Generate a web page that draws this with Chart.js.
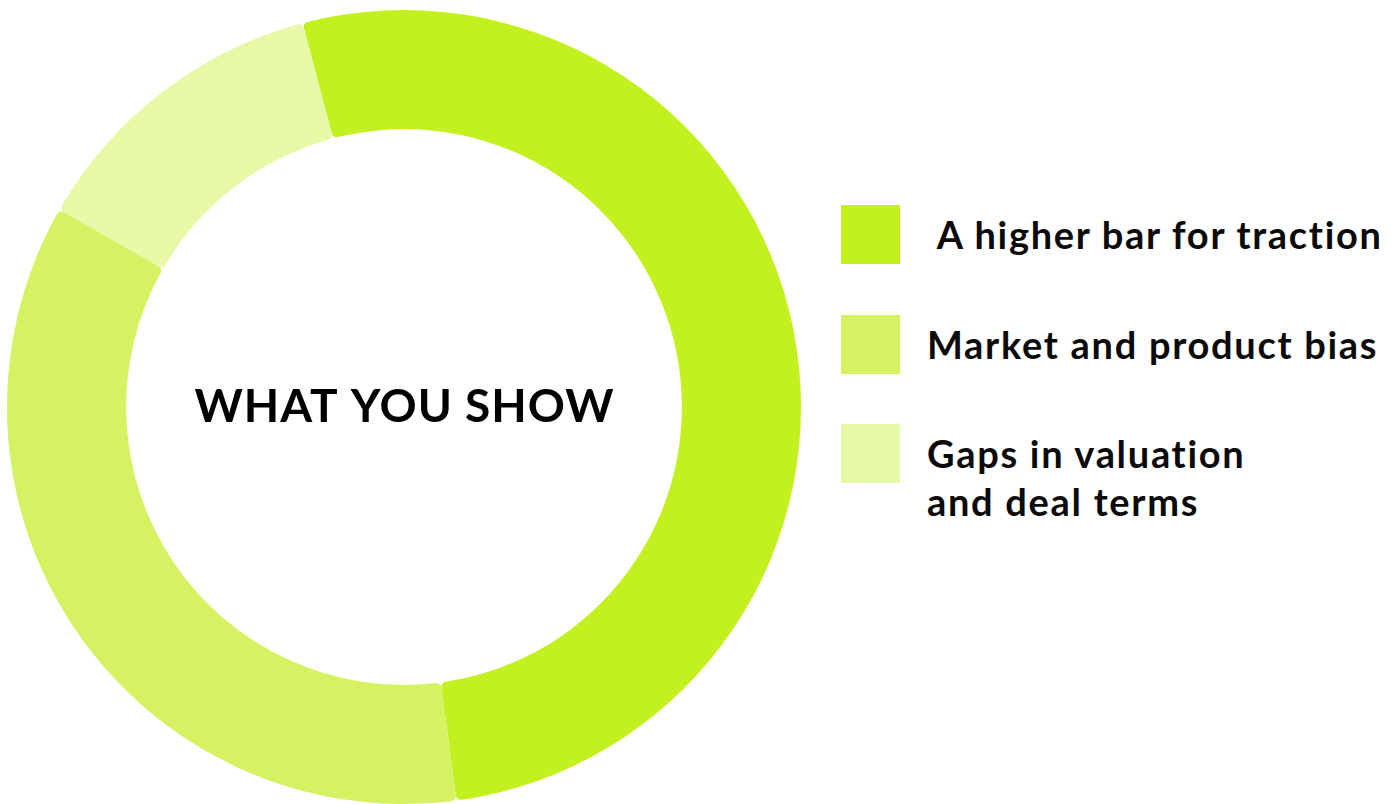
<!DOCTYPE html>
<html>
<head>
<meta charset="utf-8">
<script src="https://cdn.jsdelivr.net/npm/chart.js@4.4.0/dist/chart.umd.min.js"></script>
<style>
  html, body { margin: 0; padding: 0; background: #fff; }
  body { width: 1391px; height: 804px; position: relative; overflow: hidden; font-family: Lato, "Open Sans", sans-serif; }
  #wrap { position: absolute; left: 0; top: 0; width: 808px; height: 814px; }
  #legend { position: absolute; left: 841px; top: 205px; margin: 0; padding: 0; list-style: none; }
  #legend li { position: relative; height: 109.5px; }
  #legend .box { position: absolute; left: 0; top: 0; width: 59px; height: 59px; }
  #legend .txt { position: absolute; left: 86px; top: 5px; font-weight: 700; font-size: 38px; line-height: 48px; letter-spacing: 1.7px; color: #0a0a0a; white-space: pre; }
</style>
</head>
<body>
<div id="wrap"><canvas id="chart"></canvas></div>
<ul id="legend"></ul>
<script>
const labels = [' A higher bar for traction', 'Market and product bias', 'Gaps in valuation\nand deal terms'];
const values = [52, 35.4, 12.6];
const colors = ['#c3f01f', '#d4f261', '#e5f9a7'];
const centerText = 'WHAT YOU SHOW';

const centerLabel = {
  id: 'centerLabel',
  afterDraw(chart) {
    const { ctx } = chart;
    const arc = chart.getDatasetMeta(0).data[0];
    ctx.save();
    ctx.font = '700 46px Lato, sans-serif';
    ctx.letterSpacing = '1px';
    ctx.fillStyle = '#000';
    ctx.textAlign = 'center';
    ctx.textBaseline = 'middle';
    ctx.fillText(centerText, arc.x + 0.5, arc.y);
    ctx.restore();
  }
};

const chart = new Chart(document.getElementById('chart'), {
  type: 'doughnut',
  data: {
    labels,
    datasets: [{
      data: values,
      backgroundColor: colors,
      borderWidth: 0,
      borderRadius: 5
    }]
  },
  options: {
    responsive: true,
    maintainAspectRatio: false,
    animation: false,
    cutout: '70%',
    rotation: -14.8,
    layout: { padding: 7 },
    plugins: {
      legend: { display: false },
      tooltip: { enabled: false }
    }
  },
  plugins: [centerLabel]
});

// html legend built from the chart data
const legend = document.getElementById('legend');
chart.data.labels.forEach((lbl, i) => {
  const li = document.createElement('li');
  const box = document.createElement('span');
  box.className = 'box';
  box.style.background = chart.data.datasets[0].backgroundColor[i];
  const txt = document.createElement('span');
  txt.className = 'txt';
  txt.textContent = lbl;
  li.append(box, txt);
  legend.appendChild(li);
});
</script>
</body>
</html>
